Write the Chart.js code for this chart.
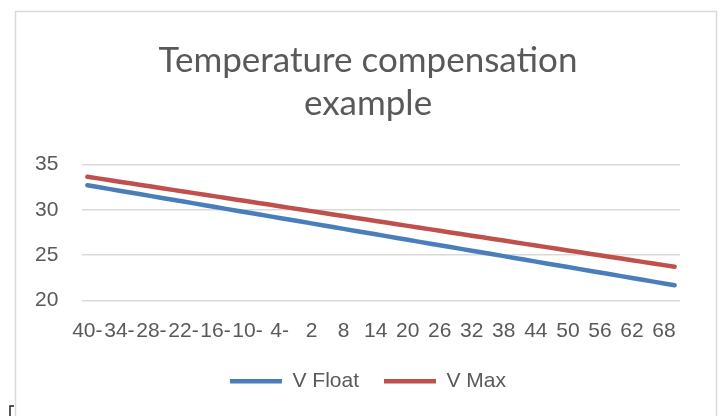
<!DOCTYPE html>
<html>
<head>
<meta charset="utf-8">
<style>
  html, body { margin: 0; padding: 0; background: #ffffff; }
  #chart { display: block; }
</style>
<script src="https://cdn.jsdelivr.net/npm/chart.js@4/dist/chart.umd.min.js"></script>
</head>
<body>
<canvas id="chart" width="720" height="416"></canvas>
<script>
// temperature in degC, every 2 degrees
const temps = [
  -40, -38, -36, -34, -32, -30, -28, -26, -24, -22, -20, -18, -16, -14,
  -12, -10, -8, -6, -4, -2, 0, 2, 4, 6, 8, 10, 12, 14,
  16, 18, 20, 22, 24, 26, 28, 30, 32, 34, 36, 38, 40, 42,
  44, 46, 48, 50, 52, 54, 56, 58, 60, 62, 64, 66, 68, 70,
];

// labels as they show on the axis (every third point)
const tickLabels = [
  "40-", "34-", "28-", "22-", "16-", "10-", "4-", "2", "8", "14",
  "20", "26", "32", "38", "44", "50", "56", "62", "68",
];

const vFloat = [
  32.7, 32.5, 32.3, 32.1, 31.9, 31.7, 31.5, 31.3, 31.1, 30.9, 30.7, 30.5, 30.3, 30.1,
  29.9, 29.7, 29.5, 29.3, 29.1, 28.9, 28.7, 28.5, 28.3, 28.1, 27.9, 27.7, 27.5, 27.3,
  27.1, 26.9, 26.7, 26.5, 26.3, 26.1, 25.9, 25.7, 25.5, 25.3, 25.1, 24.9, 24.7, 24.5,
  24.3, 24.1, 23.9, 23.7, 23.5, 23.3, 23.1, 22.9, 22.7, 22.5, 22.3, 22.1, 21.9, 21.7,
];

const vMax = [
  33.63, 33.45, 33.27, 33.09, 32.91, 32.73, 32.55, 32.37, 32.19, 32.01, 31.83, 31.65, 31.47, 31.29,
  31.11, 30.93, 30.75, 30.57, 30.39, 30.21, 30.03, 29.85, 29.67, 29.49, 29.31, 29.13, 28.95, 28.77,
  28.59, 28.41, 28.23, 28.05, 27.87, 27.69, 27.51, 27.33, 27.15, 26.97, 26.79, 26.61, 26.43, 26.25,
  26.07, 25.89, 25.71, 25.53, 25.35, 25.17, 24.99, 24.81, 24.63, 24.45, 24.27, 24.09, 23.91, 23.73,
];

const yTicks = [20, 25, 30, 35];

const textColor = "#595959";
const gridColor = "#d9d9d9";

// outer chart frame, like the office chart border
const framePlugin = {
  id: "frame",
  beforeDraw(chart) {
    const ctx = chart.ctx;
    ctx.save();
    ctx.fillStyle = "#ffffff";
    ctx.fillRect(0, 0, chart.width, chart.height);
    ctx.strokeStyle = gridColor;
    ctx.lineWidth = 1.5;
    ctx.strokeRect(15.5, 11.5, 701, 420);
    ctx.strokeStyle = "#222222";
    ctx.lineWidth = 1.5;
    ctx.beginPath();
    ctx.moveTo(10, 416);
    ctx.lineTo(10, 406);
    ctx.lineTo(14, 406);
    ctx.stroke();
    ctx.restore();
  },
};

const ctx = document.getElementById("chart");
new Chart(ctx, {
  type: "line",
  data: {
    labels: temps,
    datasets: [
      {
        label: "V Float",
        data: vFloat,
        borderColor: "#4a7ebb",
        backgroundColor: "#4a7ebb",
        borderWidth: 4.5,
        borderCapStyle: "round",
        pointRadius: 0,
        tension: 0,
      },
      {
        label: "V Max",
        data: vMax,
        borderColor: "#c0504d",
        backgroundColor: "#c0504d",
        borderWidth: 4.5,
        borderCapStyle: "round",
        pointRadius: 0,
        tension: 0,
      },
    ],
  },
  options: {
    responsive: false,
    animation: false,
    layout: { padding: { left: 56, right: 40, top: 0, bottom: 14.3 } },
    plugins: {
      title: {
        display: true,
        text: ["Temperature compensation", "example"],
        color: textColor,
        font: { family: "Lato", size: 35, weight: "normal", lineHeight: 1.23 },
        padding: { top: 39.5, bottom: 38.7 },
      },
      legend: {
        position: "bottom",
        labels: {
          color: textColor,
          font: { family: "Liberation Sans", size: 21 },
          usePointStyle: true,
          pointStyle: "line",
          pointStyleWidth: 52,
          padding: 25,
        },
      },
      tooltip: { enabled: false },
    },
    scales: {
      x: {
        offset: true,
        afterFit: (s) => { s.height = 45; },
        grid: { display: false, drawTicks: false },
        border: { display: false },
        ticks: {
          autoSkip: false,
          maxRotation: 0,
          color: textColor,
          padding: 18,
          font: { family: "Liberation Sans", size: 21 },
          callback: (v, i) => (i % 3 === 0 ? tickLabels[i / 3] : ""),
        },
      },
      y: {
        min: 20,
        max: 35,
        afterFit: (s) => { s.width = 26; },
        afterBuildTicks: (s) => { s.ticks = yTicks.map((v) => ({ value: v })); },
        grid: { color: gridColor, lineWidth: 1.5, drawTicks: false },
        border: { display: false },
        ticks: {
          mirror: true,
          color: textColor,
          padding: -47,
          font: { family: "Liberation Sans", size: 21 },
        },
      },
    },
  },
  plugins: [framePlugin],
});
</script>
</body>
</html>
